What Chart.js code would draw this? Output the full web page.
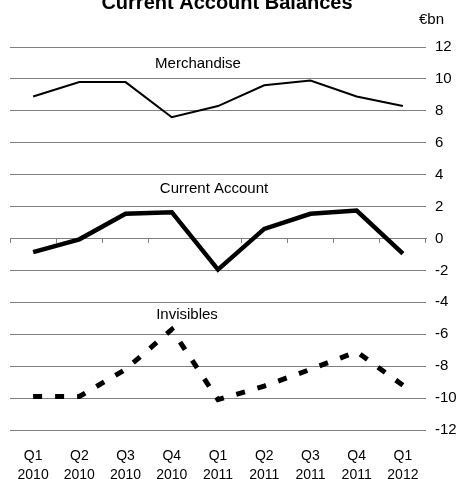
<!DOCTYPE html>
<html>
<head>
<meta charset="utf-8">
<script src="https://cdn.jsdelivr.net/npm/chart.js@4.4.1/dist/chart.umd.min.js"></script>
<style>
  html, body { margin: 0; padding: 0; background: #fff; }
  #wrap { width: 460px; height: 479px; }
</style>
</head>
<body>
<div id="wrap"><canvas id="balanceChart"></canvas></div>
<script>
// Chart data
const quarters = [['Q1', '2010'], ['Q2', '2010'], ['Q3', '2010'], ['Q4', '2010'],
                  ['Q1', '2011'], ['Q2', '2011'], ['Q3', '2011'], ['Q4', '2011'], ['Q1', '2012']];
const merchandise = [8.9, 9.8, 9.8, 7.6, 8.3, 9.6, 9.9, 8.9, 8.3];
const currentAccount = [-0.85, -0.05, 1.55, 1.65, -1.95, 0.6, 1.55, 1.75, -0.95];
const invisibles = [-9.9, -9.9, -8.2, -5.7, -10.1, -9.25, -8.2, -7.1, -9.2];
const yTicks = [-12, -10, -8, -6, -4, -2, 0, 2, 4, 6, 8, 10, 12];

const FONT = 'Liberation Sans, Arial, sans-serif';

// Title and panel labels drawn as text
const textPlugin = {
    id: 'textPlugin',
    afterDraw(chart) {
        const ctx = chart.ctx;
        const y = chart.scales.y;
        ctx.save();
        ctx.fillStyle = '#000';
        ctx.textBaseline = 'middle';
        ctx.textAlign = 'center';
        ctx.font = 'bold 20px ' + FONT;
        ctx.fillText('Current Account Balances', 227, 3);
        ctx.font = '15px ' + FONT;
        ctx.fillText('Merchandise', 198, y.getPixelForValue(10.95));
        ctx.fillText('Current Account', 214, y.getPixelForValue(3.1));
        ctx.fillText('Invisibles', 187, y.getPixelForValue(-4.8));
        ctx.textAlign = 'left';
        ctx.fillText('€bn', 419, 20);
        ctx.restore();
    }
};

function initChart() {
    const ctx = document.getElementById('balanceChart').getContext('2d');
    new Chart(ctx, {
        type: 'line',
        data: {
            labels: quarters,
            datasets: [{
                label: 'Merchandise',
                data: merchandise,
                borderColor: '#000',
                borderWidth: 2,
                pointRadius: 0,
                tension: 0
            }, {
                label: 'Current Account',
                data: currentAccount,
                borderColor: '#000',
                borderWidth: 4.5,
                pointRadius: 0,
                tension: 0
            }, {
                label: 'Invisibles',
                data: invisibles,
                borderColor: '#000',
                borderWidth: 5,
                borderDash: [9, 13],
                pointRadius: 0,
                tension: 0
            }]
        },
        options: {
            responsive: true,
            maintainAspectRatio: false,
            animation: false,
            layout: {
                padding: { top: 47, left: 10, right: 0, bottom: 0 }
            },
            plugins: {
                legend: { display: false },
                tooltip: { enabled: false }
            },
            scales: {
                x: {
                    type: 'category',
                    position: { y: 0 },
                    offset: true,
                    grid: {
                        offset: true,
                        drawOnChartArea: false,
                        drawTicks: true,
                        tickLength: 4,
                        color: '#808080'
                    },
                    border: { display: true, color: '#808080', width: 1 },
                    ticks: { display: false }
                },
                x2: {
                    type: 'category',
                    labels: quarters,
                    position: 'bottom',
                    offset: true,
                    grid: { display: false },
                    border: { display: false },
                    afterFit(scale) {
                        scale.height = 49;
                    },
                    ticks: {
                        color: '#000',
                        font: { family: FONT, size: 14, lineHeight: 1.4 },
                        padding: 8,
                        maxRotation: 0,
                        autoSkip: false
                    }
                },
                y: {
                    position: 'right',
                    min: -12,
                    max: 12,
                    afterBuildTicks(scale) {
                        scale.ticks = yTicks.map(v => ({ value: v }));
                    },
                    afterFit(scale) {
                        scale.width = 34;
                    },
                    grid: {
                        color: '#808080',
                        lineWidth: 1,
                        drawTicks: false
                    },
                    border: { display: false },
                    ticks: {
                        color: '#000',
                        padding: 9,
                        font: { family: FONT, size: 15 }
                    }
                }
            }
        },
        plugins: [textPlugin]
    });
}

document.addEventListener('DOMContentLoaded', () => {
    initChart();
});
</script>
</body>
</html>
